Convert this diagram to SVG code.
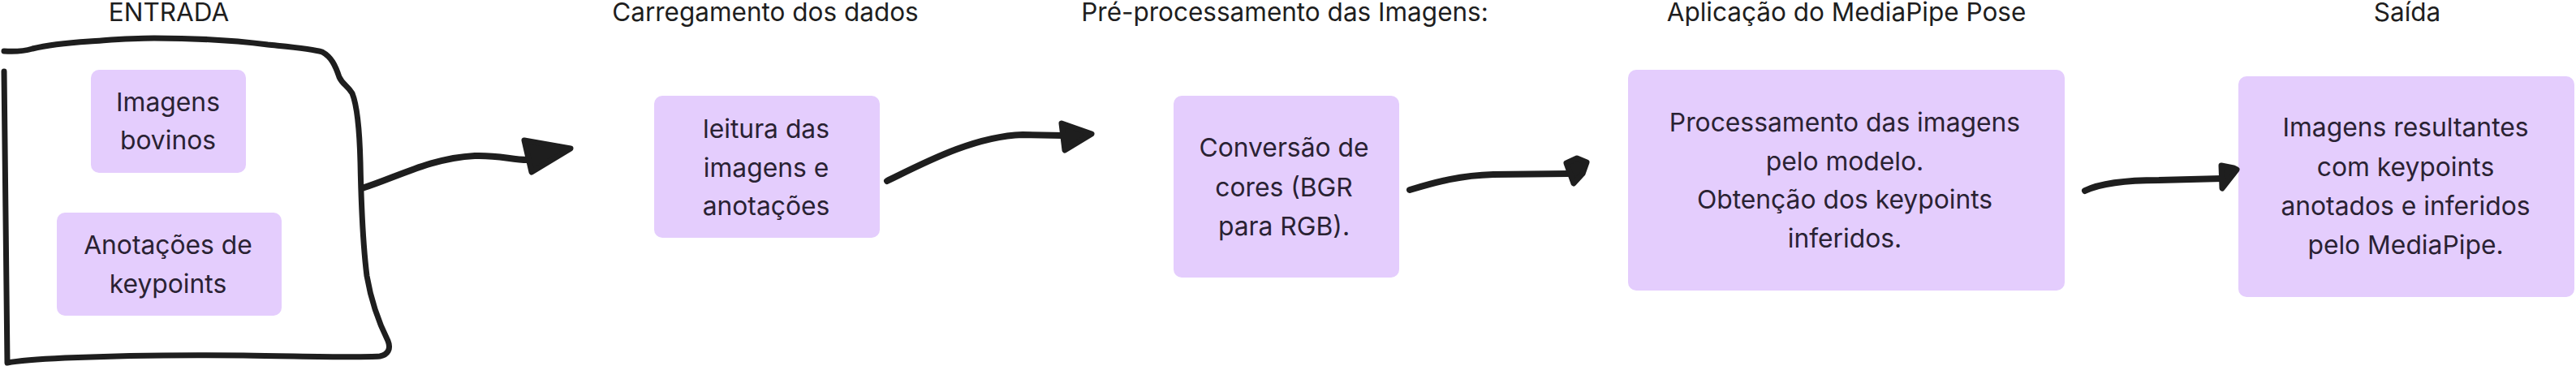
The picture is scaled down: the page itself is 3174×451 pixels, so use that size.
<svg xmlns="http://www.w3.org/2000/svg" width="3174" height="451" viewBox="0 0 3174 451">
<style>
.title{font-family:Inter,"Liberation Sans",sans-serif;font-size:31.5px;fill:#1e1e1e;text-anchor:middle}
.lbl{font-family:Inter,"Liberation Sans",sans-serif;font-size:31.8px;fill:#2a2233;text-anchor:middle}
.box{fill:#e4cdfd}
.ink{fill:none;stroke:#1e1e1e;stroke-linecap:round;stroke-linejoin:round}
.head{fill:#1e1e1e;stroke:#1e1e1e;stroke-width:7;stroke-linejoin:round}
</style>
<rect width="3174" height="451" fill="#ffffff"/>
<g id="titles">
<text class="title" x="208" y="26">ENTRADA</text>
<text class="title" x="943" y="26">Carregamento dos dados</text>
<text class="title" x="1583" y="26">Pré-processamento das Imagens:</text>
<text class="title" x="2275" y="26">Aplicação do MediaPipe Pose</text>
<text class="title" x="2966" y="26">Saída</text>
</g>
<g id="entrada-frame">
<path class="ink" stroke-width="7" d="M5,63 C20,64 30,63 40,60 C60,55 80,53 110,51 C140,49 160,47 190,47 C240,47 290,50 330,55 C360,58 385,60 397,64 C408,70 413,80 418,95 C422,104 428,105 434,115 C440,130 443,160 444,200 C445,250 447,300 452,340 C458,375 468,400 478,420 C482,430 478,437 468,439 C440,441 380,439 300,438 C220,437 150,438 80,441 C40,443 20,445 9,447 L5,88"/>
</g>
<g id="node-imagens-bovinos">
<rect class="box" x="112" y="86" width="191" height="127" rx="10"/>
<text class="lbl" x="207" y="137">Imagens</text>
<text class="lbl" x="207" y="184">bovinos</text>
</g>
<g id="node-anotacoes">
<rect class="box" x="70" y="262" width="277" height="127" rx="10"/>
<text class="lbl" x="207" y="313">Anotações de</text>
<text class="lbl" x="207" y="361">keypoints</text>
</g>
<g id="node-leitura">
<rect class="box" x="806" y="118" width="278" height="175" rx="10"/>
<text class="lbl" x="944" y="170">leitura das</text>
<text class="lbl" x="944" y="218">imagens e</text>
<text class="lbl" x="944" y="265">anotações</text>
</g>
<g id="node-conversao">
<rect class="box" x="1446" y="118" width="278" height="224" rx="10"/>
<text class="lbl" x="1582" y="193">Conversão de</text>
<text class="lbl" x="1582" y="242">cores (BGR</text>
<text class="lbl" x="1582" y="290">para RGB).</text>
</g>
<g id="node-processamento">
<rect class="box" x="2006" y="86" width="538" height="272" rx="10"/>
<text class="lbl" x="2273" y="162">Processamento das imagens</text>
<text class="lbl" x="2273" y="210">pelo modelo.</text>
<text class="lbl" x="2273" y="257">Obtenção dos keypoints</text>
<text class="lbl" x="2273" y="305">inferidos.</text>
</g>
<g id="node-saida">
<rect class="box" x="2758" y="94" width="414" height="272" rx="10"/>
<text class="lbl" x="2964" y="168">Imagens resultantes</text>
<text class="lbl" x="2964" y="217">com keypoints</text>
<text class="lbl" x="2964" y="265">anotados e inferidos</text>
<text class="lbl" x="2964" y="313">pelo MediaPipe.</text>
</g>
<g id="connectors">
<path class="ink" stroke-width="8" d="M446,232 C490,218 530,195 585,192 C615,191 630,197 650,197"/>
<path class="head" d="M646,173 L703,183 L655,212 Z"/>
<path class="ink" stroke-width="8" d="M1093,223 C1140,200 1200,168 1260,166 L1310,167"/>
<path class="head" d="M1308,152 L1345,165 L1312,185 Z"/>
<path class="ink" stroke-width="8" d="M1737,234 C1770,224 1800,216 1840,215 L1932,214"/>
<path class="head" d="M1930,201 L1943,195 L1955,200 L1950,214 L1939,226 Z"/>
<path class="ink" stroke-width="8" d="M2569,235 C2590,225 2620,222 2660,222 L2738,220"/>
<path class="head" d="M2737,204 L2752,207 L2756,209 L2738,232 Z"/>
</g>
</svg>
